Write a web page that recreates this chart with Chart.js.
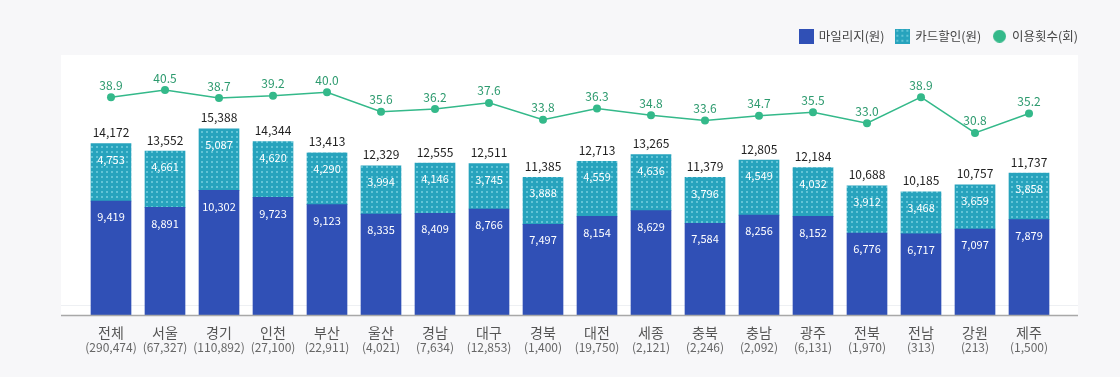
<!DOCTYPE html>
<html><head><meta charset="utf-8">
<script src="https://cdn.jsdelivr.net/npm/chart.js@4.4.0/dist/chart.umd.min.js"></script>
<style>html,body{margin:0;padding:0;background:#f7f7f9;}#wrap{width:1120px;height:377px;}</style>
</head><body><div id="wrap"><canvas id="c" width="1120" height="377"></canvas></div>
<script>
const categories = ['전체','서울','경기','인천','부산','울산','경남','대구','경북','대전','세종','충북','충남','광주','전북','전남','강원','제주'];
const counts = ['290,474','67,327','110,892','27,100','22,911','4,021','7,634','12,853','1,400','19,750','2,121','2,246','2,092','6,131','1,970','313','213','1,500'];
const mileage = [9419,8891,10302,9723,9123,8335,8409,8766,7497,8154,8629,7584,8256,8152,6776,6717,7097,7879];
const card = [4753,4661,5087,4620,4290,3994,4146,3745,3888,4559,4636,3796,4549,4032,3912,3468,3659,3858];
const totals = [14172,13552,15388,14344,13413,12329,12555,12511,11385,12713,13265,11379,12805,12184,10688,10185,10757,11737];
const usage = [38.9,40.5,38.7,39.2,40.0,35.6,36.2,37.6,33.8,36.3,34.8,33.6,34.7,35.5,33.0,38.9,30.8,35.2];
const seriesNames = ['마일리지(원)','카드할인(원)','이용횟수(회)'];

const FONT = "'Noto Sans CJK KR','Noto Sans',sans-serif";
const BLUE = '#3050b6', TEAL = '#27a3bd', DOT = '#63c4d6', GREEN = '#34b98a', GREEN_TXT = '#2c9a6e';

function dotTile(){
  const p = document.createElement('canvas'); p.width = 5; p.height = 5;
  const g = p.getContext('2d');
  g.fillStyle = TEAL; g.fillRect(0,0,5,5);
  g.fillStyle = DOT; g.fillRect(1,1,2,2);
  return p;
}
const tealPattern = document.getElementById('c').getContext('2d').createPattern(dotTile(),'repeat');
function icon(kind){
  const s = kind==='circle'?13:15;
  const c = document.createElement('canvas'); c.width = s; c.height = s;
  const g = c.getContext('2d');
  if(kind==='blue'){ g.fillStyle = BLUE; g.fillRect(0,0,s,s); }
  else if(kind==='teal'){ g.fillStyle = g.createPattern(dotTile(),'repeat'); g.fillRect(0,0,s,s); }
  else { g.fillStyle = GREEN; g.beginPath(); g.arc(s/2,s/2,s/2,0,Math.PI*2); g.fill(); }
  return c;
}
const legendIcons = [icon('blue'), icon('teal'), icon('circle')];

const panelPlugin = {
  id:'panel',
  beforeDraw(chart){
    const ctx = chart.ctx, a = chart.chartArea;
    ctx.save();
    ctx.fillStyle = '#ffffff';
    ctx.fillRect(61, 55, 1017, a.bottom - 55);
    ctx.strokeStyle = '#eef0f3'; ctx.lineWidth = 1;
    ctx.beginPath(); ctx.moveTo(61, a.bottom - 9.5); ctx.lineTo(1078, a.bottom - 9.5); ctx.stroke();
    ctx.restore();
  },
  afterDatasetsDraw(chart){
    const ctx = chart.ctx, a = chart.chartArea;
    ctx.save();
    ctx.strokeStyle = '#a8a8a8'; ctx.lineWidth = 1.5;
    ctx.beginPath(); ctx.moveTo(61, a.bottom + 0.5); ctx.lineTo(1078, a.bottom + 0.5); ctx.stroke();
    const m0 = chart.getDatasetMeta(0), m1 = chart.getDatasetMeta(1), m2 = chart.getDatasetMeta(2);
    ctx.textAlign = 'center'; ctx.textBaseline = 'middle';
    for(let i=0;i<categories.length;i++){
      const b = m0.data[i], t = m1.data[i], p = m2.data[i];
      ctx.fillStyle = '#ffffff'; ctx.font = '11px ' + FONT;
      ctx.fillText(mileage[i].toLocaleString('en-US'), b.x, b.y + 16);
      ctx.fillText(card[i].toLocaleString('en-US'), t.x, t.y + 16);
      ctx.fillStyle = '#222222'; ctx.font = '12px ' + FONT;
      ctx.fillText(totals[i].toLocaleString('en-US'), t.x, t.y - 11);
      ctx.fillStyle = GREEN_TXT; ctx.font = '12px ' + FONT;
      ctx.fillText(usage[i].toFixed(1), p.x, p.y - 12);
      ctx.fillStyle = '#666666'; ctx.font = '12px ' + FONT;
      ctx.fillText('(' + counts[i] + ')', chart.scales.x.getPixelForValue(i), a.bottom + 32);
    }
    ctx.restore();
  }
};

new Chart(document.getElementById('c'), {
  type:'bar',
  data:{
    labels: categories,
    datasets:[
      {label:seriesNames[0], data:mileage, backgroundColor:BLUE, stack:'s', yAxisID:'y', barThickness:40, order:1},
      {label:seriesNames[1], data:card, backgroundColor:tealPattern, stack:'s', yAxisID:'y', barThickness:40, order:1},
      {label:seriesNames[2], type:'line', data:usage, yAxisID:'y1', borderColor:GREEN, borderWidth:1.5, pointRadius:4, pointBackgroundColor:GREEN, pointBorderWidth:0, tension:0, order:0}
    ]
  },
  options:{
    responsive:false, animation:false, devicePixelRatio:1,
    layout:{padding:{left:61,right:30,top:18,bottom:0}},
    plugins:{
      tooltip:{enabled:false},
      legend:{position:'top', align:'end',
        labels:{usePointStyle:true, color:'#444', padding:12, font:{family:FONT,size:12.5},
          generateLabels: chart => chart.data.datasets.map((ds,i)=>({text:ds.label, pointStyle:legendIcons[i], fillStyle:'rgba(0,0,0,0)', strokeStyle:'rgba(0,0,0,0)', lineWidth:0, hidden:false, datasetIndex:i, fontColor:'#444'}))
        }}
    },
    scales:{
      x:{stacked:true, grid:{display:false, drawTicks:false}, border:{display:false},
         ticks:{font:{family:FONT,size:14}, color:'#555', padding:9, maxRotation:0, autoSkip:false},
         afterFit:s=>{s.height=62;}},
      y:{stacked:true, min:0, max:21700, ticks:{display:false}, grid:{display:false}, border:{display:false}, afterFit:s=>{s.width=23;}},
      y1:{position:'right', min:-10.4, max:49, ticks:{display:false}, grid:{display:false}, border:{display:false}, afterFit:s=>{s.width=34;}}
    }
  },
  plugins:[panelPlugin]
});
</script></body></html>
